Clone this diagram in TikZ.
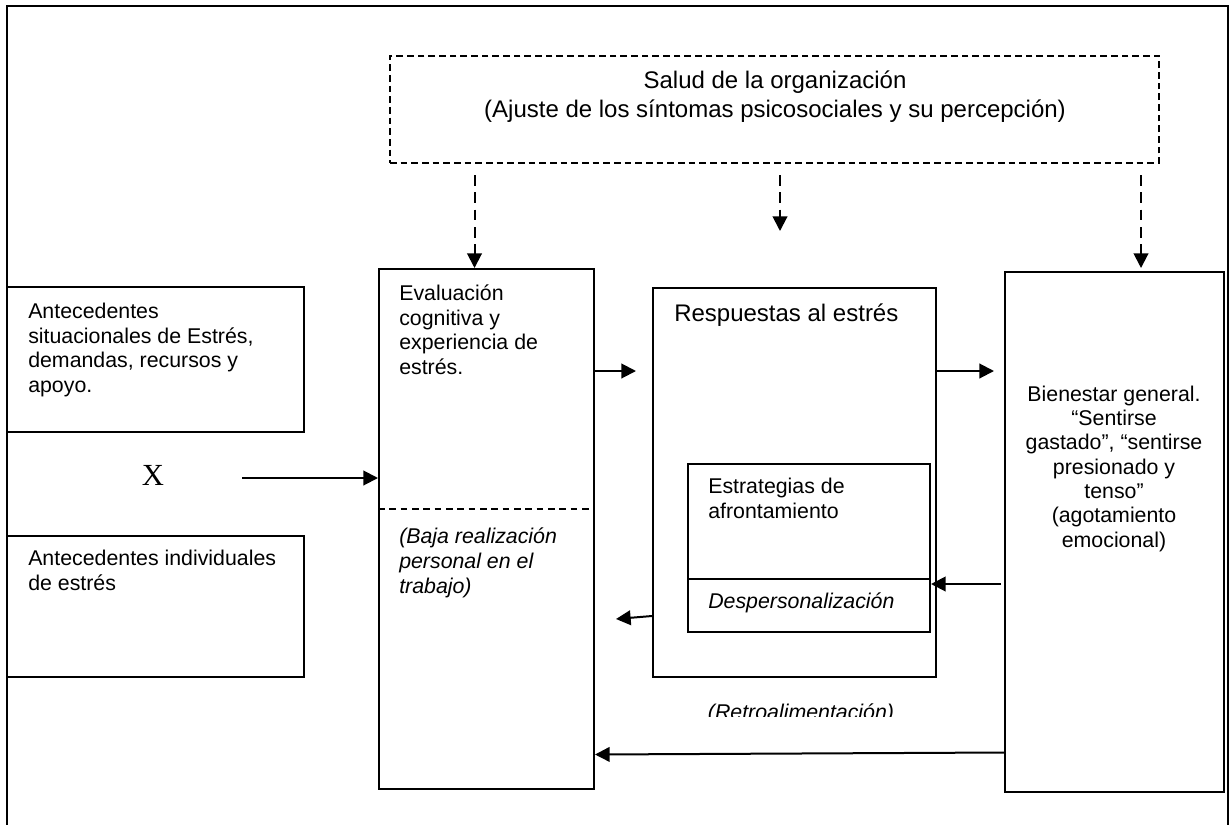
\documentclass[tikz,border=0pt]{standalone}
\usepackage{fontspec}
\setmainfont{Liberation Sans}
\newfontfamily\timesfont{Liberation Serif}
\usetikzlibrary{arrows.meta,fit}
\begin{document}
% text nodes are placed by the baseline of their last line
\begin{tikzpicture}[x=0.75pt,y=-0.75pt,
  box/.style={draw, line width=1.5pt, inner sep=0pt},
  txt/.style={inner sep=0pt, anchor=base west, align=left, font=\fontsize{16}{18.4}\selectfont},
  ctxt/.style={inner sep=0pt, anchor=base, align=center, font=\fontsize{16}{18.2}\selectfont},
  arr/.style={-{Triangle[length=11pt,width=11pt]}, line width=1.5pt},
  darr/.style={arr, dash pattern=on 8pt off 5pt},
]
\useasboundingbox (0,0) rectangle (1230,824);

% outer frame
\draw[line width=1.5pt] (7,830) -- (7,6) -- (1228,6) -- (1228,830);

% organisational health (dashed)
\node[box, dash pattern=on 5pt off 3pt, fit={(390,56) (1159,163)}] (salud) {};
\node[ctxt, font=\fontsize{18}{21}\selectfont] (saludtxt) at (775,117)
  {Salud de la organización\\(Ajuste de los síntomas psicosociales y su percepción)};

% left antecedents
\node[box, fit={(7,287) (304,432)}] (ant1) {};
\node[txt] (ant1txt) at (28,392.5)
  {Antecedentes\\situacionales de Estrés,\\demandas, recursos y\\apoyo.};
\node[box, fit={(7,536) (304,677)}] (ant2) {};
\node[txt] (ant2txt) at (28,590.5) {Antecedentes individuales\\de estrés};
\node[inner sep=0pt, font=\timesfont\fontsize{23}{23}\selectfont] (X) at (153,475) {X};

% cognitive appraisal
\node[box, fit={(379,269) (594,789)}] (eval) {};
\draw[line width=1.5pt, dash pattern=on 5pt off 3.5pt] (eval.west |- 0,509) -- (eval.east |- 0,509);
\node[txt] (evaltxt) at (399,374.5)
  {Evaluación\\cognitiva y\\experiencia de\\estrés.};
\node[txt, font=\fontsize{16}{18.4}\selectfont\itshape] (bajatxt) at (399,593)
  {(Baja realización\\personal en el\\trabajo)};

% stress responses
\node[box, fit={(653,288) (936,677)}] (resp) {};
\node[txt, font=\fontsize{18}{21}\selectfont] (resptxt) at (674,321) {Respuestas al estrés};
\node[box, fit={(688,464) (930,632)}] (estr) {};
\draw[line width=1.5pt] (estr.west |- 0,579) -- (estr.east |- 0,579);
\node[txt] (estrtxt) at (708,518) {Estrategias de\\afrontamiento};
\node[txt, font=\fontsize{16}{18.4}\selectfont\itshape] (desptxt) at (708,608) {Despersonalización};

% general wellbeing
\node[box, fit={(1005,272) (1224,792)}] (bien) {};
\node[ctxt] (bientxt) at (1114,547)
  {Bienestar general.\\“Sentirse\\gastado”, “sentirse\\presionado y\\tenso”\\(agotamiento\\emocional)};

% feedback label, cut at its baseline
\begin{scope}
  \clip (650,690) rectangle (960,716.5);
  \node[ctxt, font=\fontsize{16}{18.4}\selectfont\itshape] (retro) at (801,719) {(Retroalimentación)};
\end{scope}

% dashed influences from organisational health
\coordinate (d1) at (474.5,175);
\coordinate (d2) at (780,175);
\coordinate (d2e) at (780,231);
\coordinate (d3) at (1141,175);
\draw[darr] (d1) -- (d1 |- eval.north);
\draw[darr] (d2) -- (d2e);
\draw[darr] (d3) -- (1141,268);

% main flow
\coordinate (xs) at (242,478);
\draw[arr] (xs) -- (eval.west |- xs);
\coordinate (r1) at (636,371);
\draw[arr] (eval.east |- r1) -- (r1);
\coordinate (r2) at (994,371);
\draw[arr] (resp.east |- r2) -- (r2);
\coordinate (b1) at (1001,584);
\draw[arr] (b1) -- (estr.east |- b1);
\coordinate (l1) at (616,619);
\draw[arr] (resp.west |- 0,616) -- (l1);
\draw[arr] (bien.west |- 0,752.5) -- (eval.east |- 0,754.5);
\end{tikzpicture}
\end{document}
